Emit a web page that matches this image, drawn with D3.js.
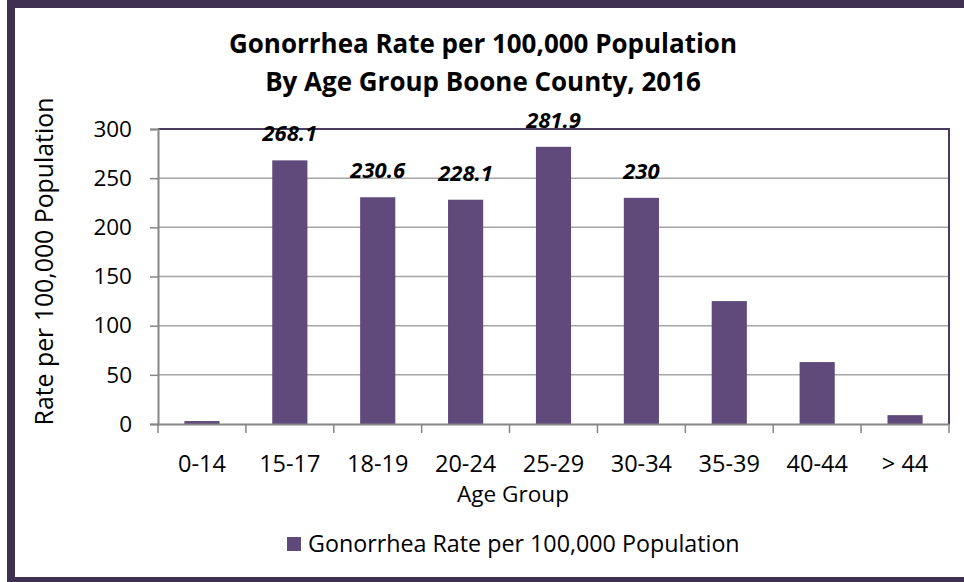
<!DOCTYPE html>
<html>
<head>
<meta charset="utf-8">
<script src="https://cdn.jsdelivr.net/npm/d3@7"></script>
<style>
  html, body { margin: 0; padding: 0; background: #fff; }
  svg { display: block; }
  text { font-family: "Open Sans", "DejaVu Sans", sans-serif; fill: #000; }
</style>
</head>
<body>
<svg id="chart" width="964" height="582"></svg>
<script>
const categories = ["0-14", "15-17", "18-19", "20-24", "25-29", "30-34", "35-39", "40-44", "> 44"];
const rates = [3, 268.1, 230.6, 228.1, 281.9, 230, 125, 63, 9];
const labelShown = [false, true, true, true, true, true, false, false, false];
const yTicks = [0, 50, 100, 150, 200, 250, 300];
const titleLines = ["Gonorrhea Rate per 100,000 Population", "By Age Group Boone County, 2016"];
const seriesName = "Gonorrhea Rate per 100,000 Population";
const xTitle = "Age Group";
const yTitle = "Rate per 100,000 Population";

const svg = d3.select("#chart");
const W = 964, H = 582;
const plot = { left: 158, right: 949, top: 129, bottom: 424 };
const barColor = "#604a7b";
const borderColor = "#3f3151";

// fit a text element to a target width by adjusting font-size
function fit(sel, target) {
  const node = sel.node();
  const fs = parseFloat(sel.attr("font-size"));
  const w = node.getComputedTextLength();
  if (w > 0) sel.attr("font-size", (fs * target / w).toFixed(2));
  return sel;
}

svg.append("rect").attr("width", W).attr("height", H).attr("fill", "#fff");

const x = d3.scaleBand().domain(categories)
  .range([plot.left, plot.right]).paddingInner(0.6).paddingOuter(0.3);
const y = d3.scaleLinear().domain([0, 300]).range([plot.bottom, plot.top]);

// gridlines
svg.append("g").selectAll("line").data(yTicks.filter(d => d > 0 && d < 300)).join("line")
  .attr("x1", plot.left).attr("x2", plot.right)
  .attr("y1", d => y(d)).attr("y2", d => y(d))
  .attr("stroke", "#a6a6a6").attr("stroke-width", 1.5);

// plot border top & right (purple)
svg.append("path")
  .attr("d", `M${plot.left},${y(300)}H${plot.right}V${plot.bottom}`)
  .attr("fill", "none").attr("stroke", "#4a3b5e").attr("stroke-width", 2);

// bars
svg.append("g").selectAll("rect").data(categories).join("rect")
  .attr("x", d => x(d))
  .attr("width", x.bandwidth())
  .attr("y", (d, i) => y(rates[i]))
  .attr("height", (d, i) => y(0) - y(rates[i]))
  .attr("fill", barColor);

// y axis
const yAxis = d3.axisLeft(y).tickValues(yTicks).tickSize(8).tickPadding(18).tickFormat(d3.format("d"));
const gy = svg.append("g").attr("transform", `translate(${plot.left},0)`).call(yAxis);
gy.select(".domain").attr("stroke", "#868686").attr("stroke-width", 2);
gy.selectAll(".tick line").attr("stroke", "#868686").attr("stroke-width", 1.5);
gy.selectAll(".tick text").attr("font-size", 22.5).attr("font-family", '"Open Sans", sans-serif').attr("fill", "#000");

// x axis
const xAxis = d3.axisBottom(x).tickSize(0).tickPadding(31);
const gx = svg.append("g").attr("transform", `translate(0,${plot.bottom})`).call(xAxis);
gx.select(".domain").attr("stroke", "#868686").attr("stroke-width", 2);
gx.selectAll(".tick text").attr("font-size", 23.5).attr("font-family", '"Open Sans", sans-serif').attr("fill", "#000");
// boundary tick marks
const bounds = categories.map(c => x(c) - x.step() * x.paddingInner() / 2).concat([plot.right]);
bounds[0] = plot.left;
svg.append("g").selectAll("line").data(bounds).join("line")
  .attr("x1", d => d).attr("x2", d => d)
  .attr("y1", plot.bottom).attr("y2", plot.bottom + 9)
  .attr("stroke", "#868686").attr("stroke-width", 1.5);

// data labels
svg.append("g").selectAll("text").data(categories.filter((c, i) => labelShown[i])).join("text")
  .attr("x", d => x(d) + x.bandwidth() / 2)
  .attr("y", d => y(rates[categories.indexOf(d)]) - 19)
  .attr("text-anchor", "middle")
  .attr("font-size", 22).attr("font-weight", "bold").attr("font-style", "italic")
  .text(d => rates[categories.indexOf(d)]);

// titles
const t1 = svg.append("text").attr("x", 483).attr("y", 53).attr("text-anchor", "middle")
  .attr("font-size", 25).attr("font-weight", "bold").text(titleLines[0]);
fit(t1, 508);
const t2 = svg.append("text").attr("x", 483).attr("y", 91).attr("text-anchor", "middle")
  .attr("font-size", t1.attr("font-size")).attr("font-weight", "bold").text(titleLines[1]);

// axis titles
const xt = svg.append("text").attr("x", 513).attr("y", 502)
  .attr("text-anchor", "middle").attr("font-size", 22.5).text(xTitle);
fit(xt, 112);
const yt = svg.append("text").attr("transform", `translate(53,${(plot.top + plot.bottom) / 2 - 15}) rotate(-90)`)
  .attr("text-anchor", "middle").attr("font-size", 22.5).text(yTitle);
fit(yt, 328);

// legend
svg.append("rect").attr("x", 287).attr("y", 537).attr("width", 14).attr("height", 14).attr("fill", barColor);
const lg = svg.append("text").attr("x", 308).attr("y", 552).attr("font-size", 22.5).text(seriesName);
fit(lg, 432);

// outer border (left, top, bottom)
svg.append("path")
  .attr("d", `M${W + 10},4H11V581H${W + 10}`)
  .attr("fill", "none").attr("stroke", borderColor).attr("stroke-width", 8);
</script>
</body>
</html>
